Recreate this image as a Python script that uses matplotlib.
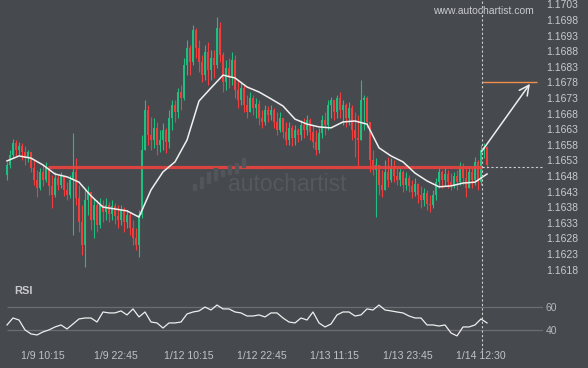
import matplotlib
matplotlib.use("Agg")
import matplotlib.pyplot as plt
import numpy as np
from matplotlib.lines import Line2D
from matplotlib.patches import Rectangle
import matplotlib.transforms as mtransforms

plt.rcParams['font.family'] = ['Liberation Sans', 'DejaVu Sans']

# ---------------- data ----------------
first_open = 1.16483
closes = [1.16515, 1.16547, 1.16586, 1.16563, 1.16576, 1.16557, 1.16537, 1.16557, 1.16505, 1.16467,
          1.16441, 1.16493, 1.16467, 1.16505, 1.16448, 1.16419, 1.16473, 1.16451, 1.16480, 1.16435,
          1.16419, 1.16467, 1.16493, 1.16409, 1.16332, 1.16259, 1.16403, 1.16428, 1.16339, 1.16387,
          1.16323, 1.16387, 1.16364, 1.16387, 1.16358, 1.16384, 1.16352, 1.16339, 1.16371, 1.16332,
          1.16355, 1.16313, 1.16281, 1.16259, 1.16355, 1.16563, 1.16691, 1.16611, 1.16595, 1.16634,
          1.16579, 1.16595, 1.16627, 1.16589, 1.16666, 1.16707, 1.16685, 1.16749, 1.16730, 1.16835,
          1.16890, 1.16845, 1.16948, 1.16890, 1.16845, 1.16803, 1.16877, 1.16819, 1.16858, 1.16835,
          1.16954, 1.16868, 1.16781, 1.16826, 1.16794, 1.16852, 1.16755, 1.16723, 1.16762, 1.16707,
          1.16685, 1.16730, 1.16698, 1.16710, 1.16666, 1.16653, 1.16691, 1.16675, 1.16691, 1.16653,
          1.16627, 1.16666, 1.16621, 1.16595, 1.16634, 1.16602, 1.16627, 1.16611, 1.16643, 1.16627,
          1.16659, 1.16621, 1.16589, 1.16563, 1.16618, 1.16659, 1.16643, 1.16707, 1.16723, 1.16685,
          1.16730, 1.16691, 1.16707, 1.16666, 1.16698, 1.16627, 1.16602, 1.16595, 1.16723, 1.16730,
          1.16653, 1.16531, 1.16499, 1.16515, 1.16451, 1.16435, 1.16493, 1.16467, 1.16505, 1.16480,
          1.16467, 1.16493, 1.16451, 1.16473, 1.16448, 1.16428, 1.16454, 1.16419, 1.16403, 1.16425,
          1.16390, 1.16387, 1.16419, 1.16460, 1.16493, 1.16467, 1.16486, 1.16460, 1.16451, 1.16480,
          1.16460, 1.16505, 1.16473, 1.16441, 1.16493, 1.16467, 1.16525, 1.16460, 1.16563, 1.16573,
          1.16515]
highs = [1.16525, 1.16563, 1.16598, 1.16595, 1.16589, 1.16586, 1.16576, 1.16563, 1.16557, 1.16531,
         1.16499, 1.16505, 1.16515, 1.16525, 1.16505, 1.16483, 1.16493, 1.16483, 1.16493, 1.16480,
         1.16460, 1.16483, 1.16618, 1.16537, 1.16451, 1.16387, 1.16435, 1.16448, 1.16428, 1.16409,
         1.16403, 1.16409, 1.16403, 1.16409, 1.16396, 1.16403, 1.16393, 1.16387, 1.16387, 1.16380,
         1.16371, 1.16364, 1.16339, 1.16313, 1.16371, 1.16611, 1.16723, 1.16707, 1.16669, 1.16666,
         1.16653, 1.16627, 1.16650, 1.16634, 1.16691, 1.16723, 1.16723, 1.16762, 1.16771, 1.16858,
         1.16916, 1.16900, 1.16964, 1.16954, 1.16916, 1.16868, 1.16900, 1.16909, 1.16884, 1.16884,
         1.16989, 1.16973, 1.16877, 1.16852, 1.16858, 1.16877, 1.16868, 1.16787, 1.16781, 1.16771,
         1.16739, 1.16749, 1.16739, 1.16730, 1.16723, 1.16691, 1.16707, 1.16704, 1.16707, 1.16698,
         1.16685, 1.16685, 1.16666, 1.16653, 1.16653, 1.16643, 1.16643, 1.16634, 1.16659, 1.16666,
         1.16675, 1.16666, 1.16643, 1.16627, 1.16634, 1.16675, 1.16685, 1.16723, 1.16733, 1.16723,
         1.16739, 1.16749, 1.16723, 1.16714, 1.16717, 1.16707, 1.16685, 1.16675, 1.16787, 1.16739,
         1.16736, 1.16653, 1.16563, 1.16537, 1.16515, 1.16499, 1.16531, 1.16541, 1.16537, 1.16531,
         1.16509, 1.16505, 1.16499, 1.16493, 1.16483, 1.16467, 1.16473, 1.16457, 1.16448, 1.16441,
         1.16435, 1.16419, 1.16435, 1.16473, 1.16505, 1.16499, 1.16505, 1.16499, 1.16489, 1.16493,
         1.16499, 1.16525, 1.16521, 1.16505, 1.16512, 1.16509, 1.16541, 1.16531, 1.16579, 1.16586,
         1.16576]
lows = [1.16467, 1.16505, 1.16537, 1.16544, 1.16547, 1.16531, 1.16515, 1.16525, 1.16493, 1.16451,
        1.16412, 1.16435, 1.16448, 1.16460, 1.16419, 1.16377, 1.16412, 1.16435, 1.16441, 1.16416,
        1.16403, 1.16409, 1.16291, 1.16387, 1.16300, 1.16227, 1.16188, 1.16355, 1.16307, 1.16281,
        1.16300, 1.16313, 1.16332, 1.16339, 1.16332, 1.16339, 1.16326, 1.16313, 1.16323, 1.16300,
        1.16313, 1.16291, 1.16259, 1.16243, 1.16220, 1.16345, 1.16563, 1.16579, 1.16563, 1.16570,
        1.16547, 1.16557, 1.16563, 1.16553, 1.16570, 1.16627, 1.16653, 1.16666, 1.16691, 1.16723,
        1.16803, 1.16803, 1.16835, 1.16858, 1.16813, 1.16781, 1.16787, 1.16771, 1.16787, 1.16794,
        1.16826, 1.16845, 1.16749, 1.16755, 1.16762, 1.16771, 1.16730, 1.16698, 1.16707, 1.16685,
        1.16666, 1.16685, 1.16675, 1.16666, 1.16643, 1.16634, 1.16643, 1.16653, 1.16659, 1.16634,
        1.16611, 1.16621, 1.16602, 1.16579, 1.16579, 1.16576, 1.16579, 1.16589, 1.16595, 1.16602,
        1.16611, 1.16595, 1.16570, 1.16547, 1.16553, 1.16602, 1.16611, 1.16627, 1.16666, 1.16659,
        1.16666, 1.16666, 1.16643, 1.16637, 1.16643, 1.16595, 1.16541, 1.16505, 1.16595, 1.16627,
        1.16634, 1.16493, 1.16483, 1.16348, 1.16419, 1.16412, 1.16435, 1.16445, 1.16460, 1.16460,
        1.16451, 1.16448, 1.16428, 1.16435, 1.16428, 1.16409, 1.16416, 1.16393, 1.16377, 1.16384,
        1.16371, 1.16364, 1.16377, 1.16403, 1.16441, 1.16441, 1.16448, 1.16441, 1.16435, 1.16441,
        1.16435, 1.16451, 1.16451, 1.16412, 1.16441, 1.16441, 1.16451, 1.16435, 1.16451, 1.16537,
        1.16505]

ma_step = 4
ma_values = [1.16528, 1.16544, 1.16537, 1.16515, 1.16486, 1.16477, 1.16460, 1.16416, 1.16380, 1.16374,
             1.16368, 1.16348, 1.16435, 1.16493, 1.16525, 1.16595, 1.16720, 1.16762, 1.16803, 1.16794,
             1.16765, 1.16749, 1.16727, 1.16704, 1.16662, 1.16646, 1.16637, 1.16634, 1.16653, 1.16656,
             1.16646, 1.16570, 1.16544, 1.16525, 1.16489, 1.16464, 1.16445, 1.16448, 1.16457, 1.16460,
             1.16486]

rsi_step = 2
rsi_values = [44.5, 50.4, 48.7, 40.3, 36.9, 36.0, 38.6, 40.3, 42.8, 44.5,
              41.1, 45.3, 49.6, 50.4, 50.4, 47.0, 55.5, 54.7, 54.7, 56.4,
              53.0, 58.1, 51.3, 55.5, 47.0, 46.2, 41.9, 46.2, 46.2, 47.0,
              53.8, 55.5, 56.4, 59.7, 57.2, 61.4, 58.1, 58.1, 55.5, 54.7,
              52.1, 52.1, 53.0, 51.3, 54.7, 54.7, 50.4, 47.0, 46.2, 50.4,
              48.7, 55.5, 46.2, 42.8, 45.3, 53.0, 55.5, 55.5, 52.1, 53.0,
              58.1, 57.2, 61.4, 57.2, 56.4, 55.5, 54.7, 52.1, 50.4, 50.4,
              44.5, 44.5, 43.6, 44.5, 37.7, 35.2, 42.8, 42.8, 44.5, 49.6,
              46.2]

support_level = 1.1651
support_start = 13.7
signal_index = 158.2
target_level = 1.1678
target_end = 176.6
arrow_start_price = 1.16558
arrow_end_index = 174.3
arrow_end_price = 1.16775

price_ticks = [1.1618, 1.1623, 1.1628, 1.1633, 1.1638, 1.1643, 1.1648, 1.1653,
               1.1658, 1.1663, 1.1668, 1.1673, 1.1678, 1.1683, 1.1688, 1.1693,
               1.1698, 1.1703]
time_tick_pos = [11.8, 36.2, 60.5, 84.8, 109.2, 133.5, 157.8]
time_tick_labels = ["1/9 10:15", "1/9 22:45", "1/12 10:15", "1/12 22:45",
                    "1/13 11:15", "1/13 23:45", "1/14 12:30"]
rsi_levels = [40, 60]

# ---------------- style ----------------
BG = "#46494e"
GREEN = "#1fbf7f"
RED = "#f23d3d"
TXT = "#c9cacc"
W, H = 588, 368

def fx(px):
    return px / W

def fy(py):
    return 1 - py / H

fig = plt.figure(figsize=(W / 100, H / 100), dpi=100, facecolor=BG)

x0_px, bar_px, right_px = 7, 3, 543
xmin = (0 - x0_px) / bar_px
xmax = (right_px - x0_px) / bar_px

# main price axes
ax = fig.add_axes([0, fy(290), fx(right_px), 290 / H])
ax.set_facecolor(BG)
ax.set_xlim(xmin, xmax)
ax.set_ylim(1.161143, 1.170438)
for s in ax.spines.values():
    s.set_visible(False)

closes_a = np.array(closes)
opens_a = np.r_[first_open, closes_a[:-1]]
idx = np.arange(len(closes_a))
up = closes_a >= opens_a
cols = np.where(up, GREEN, RED)
ax.vlines(idx, lows, highs, colors=cols, lw=0.8, zorder=2)
body = np.maximum(np.abs(closes_a - opens_a), 0.000025)
ax.bar(idx, body, bottom=np.minimum(opens_a, closes_a), width=0.6,
       color=cols, linewidth=0, zorder=2)

ma_idx = np.arange(len(ma_values)) * ma_step
ax.plot(ma_idx, ma_values, color="#f0f0f0", lw=1.1, zorder=4,
        solid_joinstyle="round")

ax.hlines(support_level, support_start, signal_index, color="#e8433e",
          lw=2.3, alpha=0.92, zorder=3)
ax.hlines(support_level, signal_index, xmax, color="#cfcfcf", lw=0.8,
          linestyles=(0, (2, 2)), zorder=3)
ax.hlines(target_level, signal_index, target_end, color="#f0904c", lw=1.0, zorder=3)
ax.annotate("", xy=(arrow_end_index, arrow_end_price),
            xytext=(signal_index, arrow_start_price),
            arrowprops=dict(arrowstyle="->,head_length=0.7,head_width=0.35",
                            color="#eeeeee", lw=1.1, shrinkA=0, shrinkB=0),
            zorder=5)

ax.yaxis.tick_right()
ax.set_yticks(price_ticks)
ax.set_yticklabels([f"{v:.4f}" for v in price_ticks])
ax.tick_params(axis="y", length=0, pad=2, labelsize=7.5, labelcolor=TXT)
ax.set_xticks([])

# RSI axes
ax2 = fig.add_axes([0, fy(345), fx(right_px), 50 / H])
ax2.set_facecolor(BG)
ax2.set_xlim(xmin, xmax)
ax2.set_ylim(27.5, 69.9)
for s in ax2.spines.values():
    s.set_visible(False)
ax2.hlines(rsi_levels, 0, xmax, color="#6a6d72", lw=0.9, zorder=1)
rsi_idx = np.arange(len(rsi_values)) * rsi_step
ax2.plot(rsi_idx, rsi_values, color="#eeeeee", lw=0.9, zorder=3)
ax2.yaxis.tick_right()
ax2.set_yticks(rsi_levels)
ax2.set_yticklabels([str(v) for v in rsi_levels])
ax2.tick_params(axis="y", length=0, pad=2, labelsize=7.5, labelcolor="#b5b7ba")
ax2.set_xticks([])

trans = mtransforms.blended_transform_factory(ax2.transData, fig.transFigure)
for p, lab in zip(time_tick_pos, time_tick_labels):
    ax2.text(p, fy(356), lab, transform=trans, ha="center", va="center",
             fontsize=7.6, color="#c0c2c5", clip_on=False)

# signal vertical dashed line across both panels
vtrans = mtransforms.blended_transform_factory(ax.transData, fig.transFigure)
fig.add_artist(Line2D([signal_index, signal_index], [fy(350), 1.0], transform=vtrans,
                      color="#cfcfcf", lw=0.8, linestyle=(0, (2, 2)), zorder=6))

# texts / watermarks
fig.text(fx(14), fy(291), "RSI", fontsize=8, fontweight="bold", color=TXT, va="center")
fig.text(fx(534), fy(11), "www.autochartist.com", fontsize=7.5, color=TXT,
         ha="right", va="center")
fig.text(fx(287.5), fy(191), "autochartist", fontsize=16.5, color="#55585d",
         ha="center", va="baseline", zorder=0)
icon_bars = [(193, 184, 190), (200, 177, 188), (207, 172, 183), (214, 168, 180),
             (221, 170, 176), (228, 165, 174), (235, 163, 173), (242, 158, 167)]
for bx, top, bot in icon_bars:
    fig.add_artist(Rectangle((fx(bx), fy(bot)), 3 / W, (bot - top) / H,
                             transform=fig.transFigure, color="#525559", zorder=0.5))

fig.savefig("out.png", dpi=100, facecolor=BG)
